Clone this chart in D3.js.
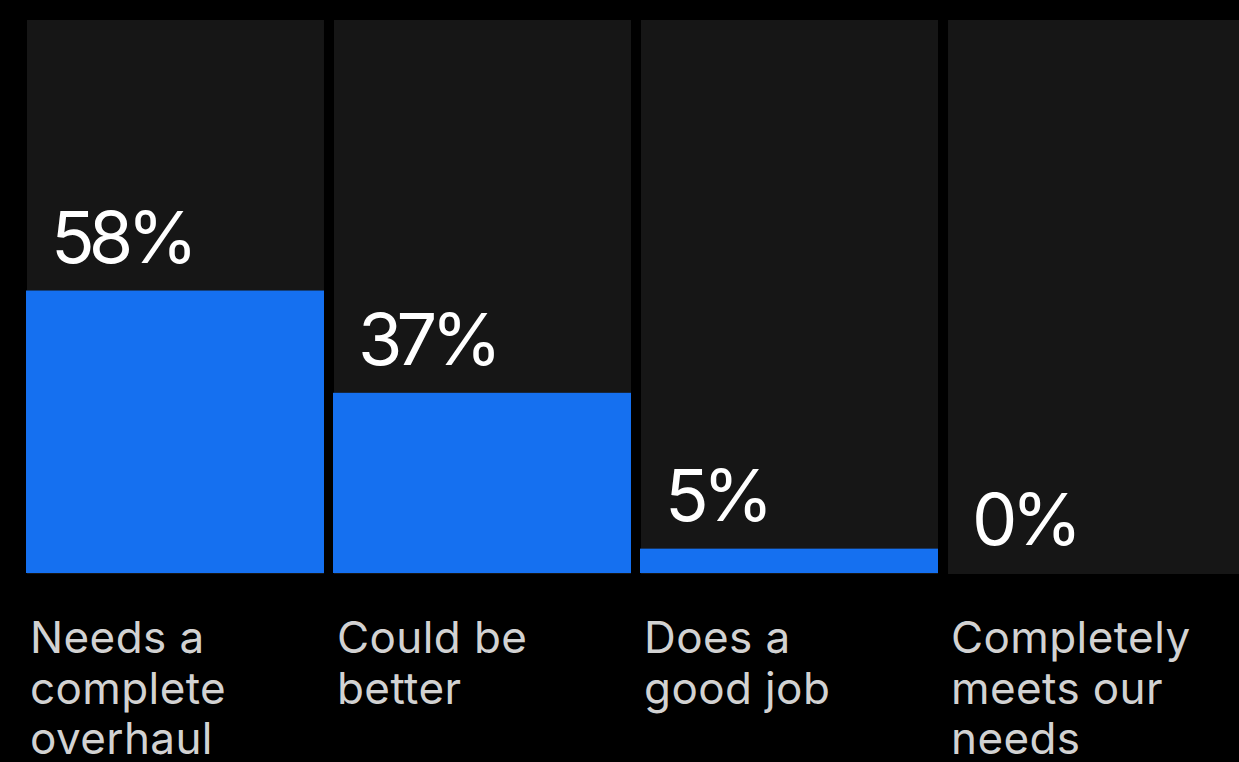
<!DOCTYPE html>
<html>
<head>
<meta charset="utf-8">
<script src="https://cdn.jsdelivr.net/npm/d3@7"></script>
<style>
  html, body { margin: 0; padding: 0; background: #000; overflow: hidden; }
  svg { display: block; }
</style>
</head>
<body>
<svg id="chart" width="1239" height="762"></svg>
<script>
// Survey responses: how well the current setup serves the team
const categories = ["Needs a complete overhaul", "Could be better", "Does a good job", "Completely meets our needs"];
const categoryLines = [
  ["Needs a", "complete", "overhaul"],
  ["Could be", "better"],
  ["Does a", "good job"],
  ["Completely", "meets our", "needs"]
];
const values = [58, 37, 5, 0];

const svg = d3.select("#chart");
const W = 1239, H = 762;
const panelTop = 20, baseY = 573;

const x = d3.scaleBand()
  .domain(categories)
  .range([27, 1245])
  .paddingInner(0.0326)
  .paddingOuter(0);

const y = d3.scaleLinear()
  .domain([0, 100])
  .range([baseY, baseY - 487]);

svg.append("rect").attr("width", W).attr("height", H).attr("fill", "#000");

const g = svg.append("g");

// Dark background panel per category
g.selectAll("rect.panel")
  .data(categories)
  .join("rect")
  .attr("class", "panel")
  .attr("x", d => x(d))
  .attr("y", panelTop)
  .attr("width", x.bandwidth())
  .attr("height", baseY - panelTop + 1)
  .attr("fill", "#161616");

// Value bars
g.selectAll("rect.bar")
  .data(values)
  .join("rect")
  .attr("class", "bar")
  .attr("x", (d, i) => x(categories[i]) - 1)
  .attr("y", d => y(d))
  .attr("width", x.bandwidth() + 1)
  .attr("height", d => baseY - y(d))
  .attr("fill", "#1570F0");

// Percentage labels sitting above each bar
g.selectAll("text.value")
  .data(values)
  .join("text")
  .attr("class", "value")
  .attr("x", (d, i) => x(categories[i]) + 24)
  .attr("y", d => y(d) - 28)
  .attr("fill", "#ffffff")
  .attr("font-family", "Inter, 'Noto Sans', sans-serif")
  .attr("font-size", 72)
  .attr("font-weight", 400)
  .attr("letter-spacing", -6)
  .text(d => d + "%");

// Category labels below the panels
const labels = g.selectAll("text.cat")
  .data(categories)
  .join("text")
  .attr("class", "cat")
  .attr("x", d => x(d) + 3)
  .attr("y", 653)
  .attr("fill", "#d2d2d2")
  .attr("font-family", "Inter, 'Noto Sans', sans-serif")
  .attr("font-size", 44)
  .attr("font-weight", 400)
  .attr("letter-spacing", 0.4);

labels.selectAll("tspan")
  .data((d, i) => categoryLines[i])
  .join("tspan")
  .attr("x", function () { return d3.select(this.parentNode).attr("x"); })
  .attr("dy", (d, j) => j === 0 ? 0 : 50.5)
  .text(d => d);
</script>
</body>
</html>
